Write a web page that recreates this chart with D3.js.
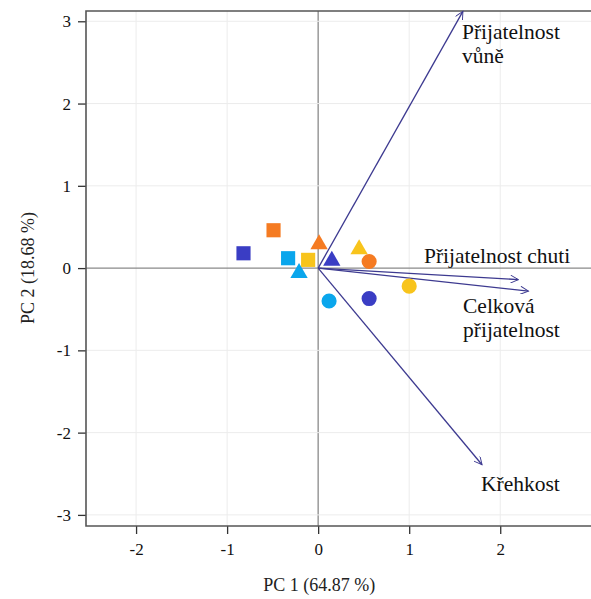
<!DOCTYPE html>
<html>
<head>
<meta charset="utf-8">
<script src="https://cdn.jsdelivr.net/npm/d3@7"></script>
<style>
  body { margin: 0; background: #fff; }
  svg text { font-family: "Liberation Serif", "DejaVu Serif", "Times New Roman", serif !important; }
</style>
</head>
<body>
<div id="chart"></div>
<script>
// PCA scores of samples
const sampleShapes = ["square", "square", "square", "square",
                      "triangle", "triangle", "triangle", "triangle",
                      "circle", "circle", "circle", "circle"];
const sampleGroups = ["navy", "orange", "sky", "yellow",
                      "orange", "sky", "navy", "yellow",
                      "orange", "yellow", "sky", "navy"];
const pc1Scores = [-0.82, -0.49, -0.33, -0.11, 0.01, -0.21, 0.15, 0.45, 0.56, 1.00, 0.12, 0.56];
const pc2Scores = [0.18, 0.46, 0.12, 0.10, 0.29, -0.06, 0.09, 0.23, 0.08, -0.22, -0.40, -0.37];

// loadings (arrows)
const loadingNames = [["Přijatelnost", "vůně"], ["Přijatelnost chuti"], ["Celková", "přijatelnost"], ["Křehkost"]];
const loadingPc1 = [1.59, 2.20, 2.31, 1.80];
const loadingPc2 = [3.12, -0.14, -0.28, -2.39];

const xTicks = [-2, -1, 0, 1, 2];
const yTicks = [-3, -2, -1, 0, 1, 2, 3];

const groupColors = { navy: "#3a3dc4", orange: "#f57b22", sky: "#0aa6ec", yellow: "#f8c41c" };

const W = 591, H = 599;
const plotLeft = 86, plotRight = 594, plotTop = 11, plotBottom = 526;
const serif = '"Liberation Serif", "Times New Roman", serif';

const x = d3.scaleLinear().domain([-2.55, 3.03]).range([plotLeft, plotRight]);
const y = d3.scaleLinear().domain([-3.135, 3.125]).range([plotBottom, plotTop]);

const svg = d3.select("#chart").append("svg")
  .attr("width", W)
  .attr("height", H)
  .attr("font-family", serif);

// grid
svg.append("g").selectAll("line").data(xTicks).enter().append("line")
  .attr("x1", d => x(d)).attr("x2", d => x(d))
  .attr("y1", plotTop).attr("y2", plotBottom)
  .style("stroke", d => d === 0 ? "#8a8a8a" : "#ececec")
  .style("stroke-width", d => d === 0 ? 1.3 : 1);

svg.append("g").selectAll("line").data(yTicks).enter().append("line")
  .attr("x1", plotLeft).attr("x2", plotRight)
  .attr("y1", d => y(d)).attr("y2", d => y(d))
  .style("stroke", d => d === 0 ? "#8a8a8a" : "#ececec")
  .style("stroke-width", d => d === 0 ? 1.3 : 1);

// axes
const xAxis = svg.append("g")
  .attr("transform", `translate(0,${plotBottom})`)
  .call(d3.axisBottom(x).tickValues(xTicks).tickSize(8).tickPadding(9).tickFormat(d => String(d)));
const yAxis = svg.append("g")
  .attr("transform", `translate(${plotLeft},0)`)
  .call(d3.axisLeft(y).tickValues(yTicks).tickSize(8).tickPadding(7).tickFormat(d => String(d)));

[xAxis, yAxis].forEach(a => {
  a.attr("font-family", serif);
  a.select(".domain").remove();
  a.selectAll("line").style("stroke", "#333").style("stroke-width", 1.3);
  a.selectAll("text").style("font-size", "17px").style("fill", "#111");
});

// frame (left, bottom, top)
svg.append("path")
  .attr("d", `M${plotRight},${plotTop}H${plotLeft}V${plotBottom}H${plotRight}`)
  .style("fill", "none")
  .style("stroke", "#555")
  .style("stroke-width", 1.6);

// arrows
svg.append("defs").append("marker")
  .attr("id", "arrow")
  .attr("viewBox", "0 -5 10 10")
  .attr("refX", 10)
  .attr("refY", 0)
  .attr("markerWidth", 12)
  .attr("markerHeight", 8)
  .attr("markerUnits", "userSpaceOnUse")
  .attr("orient", "auto")
  .append("path")
  .attr("d", "M0,-5L10,0L0,5")
  .style("fill", "none")
  .style("stroke", "#3d3a90")
  .style("stroke-width", 1.2);

svg.append("g").selectAll("line").data(loadingPc1).enter().append("line")
  .attr("x1", x(0)).attr("y1", y(0))
  .attr("x2", d => x(d)).attr("y2", (d, i) => y(loadingPc2[i]))
  .style("stroke", "#3d3a90")
  .style("stroke-width", 1.3)
  .attr("marker-end", "url(#arrow)");

// points
svg.append("g").selectAll("path").data(pc1Scores).enter().append("path")
  .attr("transform", (d, i) => `translate(${x(d)},${y(pc2Scores[i])})`)
  .attr("d", (d, i) => {
    const s = sampleShapes[i];
    if (s === "square") return d3.symbol(d3.symbolSquare, 200)();
    if (s === "triangle") return d3.symbol(d3.symbolTriangle, 130)();
    return d3.symbol(d3.symbolCircle, 180)();
  })
  .style("fill", (d, i) => groupColors[sampleGroups[i]]);

// loading labels
const labelPos = [[462, 39], [424, 263], [463, 313], [481, 491]];
const lblG = svg.append("g");
loadingNames.forEach((lines, i) => {
  const t = lblG.append("text")
    .attr("x", labelPos[i][0])
    .attr("y", labelPos[i][1])
    .style("font-size", "21.5px")
    .style("fill", "#111");
  lines.forEach((ln, j) => {
    t.append("tspan").attr("x", labelPos[i][0]).attr("dy", j === 0 ? 0 : 24).text(ln);
  });
});

// axis titles
svg.append("text")
  .attr("x", x(0) + 1)
  .attr("y", 591)
  .attr("text-anchor", "middle")
  .style("font-size", "18px")
  .style("fill", "#222")
  .text("PC 1 (64.87 %)");

svg.append("text")
  .attr("transform", `translate(34,${y(0)}) rotate(-90)`)
  .attr("text-anchor", "middle")
  .style("font-size", "18px")
  .style("fill", "#222")
  .text("PC 2 (18.68 %)");
</script>
</body>
</html>
